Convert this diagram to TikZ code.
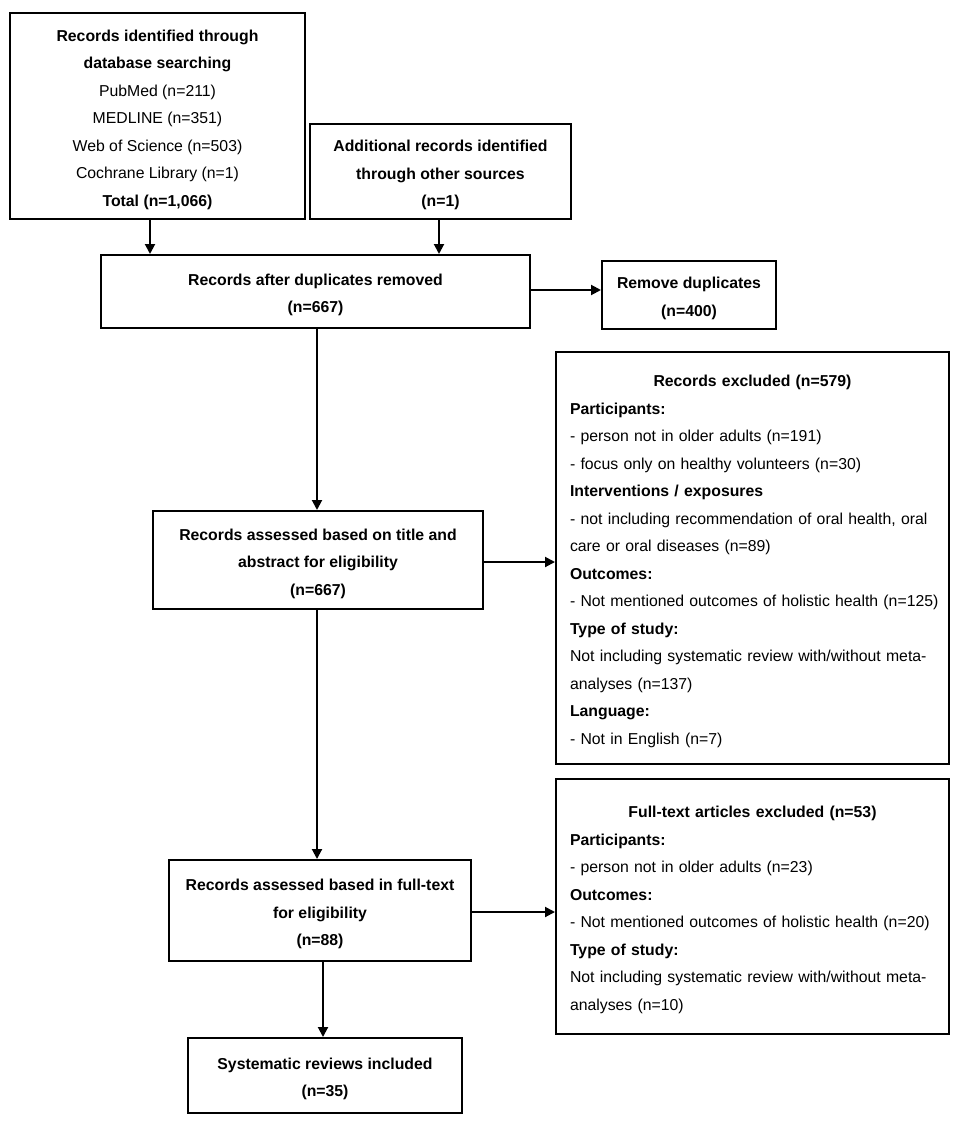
\documentclass[tikz,border=0pt]{standalone}
\usepackage{fontspec}
\setmainfont{Liberation Sans}
\usetikzlibrary{arrows.meta}
\newcommand\tstrut{\rule{0pt}{18.5pt}}
\begin{document}
\begin{tikzpicture}[x=1pt,y=-1pt,
  box/.style={draw=black, line width=2pt, inner sep=0pt, align=center,
    font=\fontsize{15.8}{27.5}\selectfont},
  lbox/.style={draw=black, line width=2pt, inner xsep=14pt, inner ysep=0pt,
    text width=365pt, align=left, font=\fontsize{15.8}{27.5}\selectfont},
  arr/.style={line width=2pt, -{Triangle[length=10pt,width=10pt]}}]
\useasboundingbox (0,0) rectangle (957,1121);
\fill[white] (0,0) rectangle (957,1121);

\node[box, minimum width=295pt, minimum height=206pt] (B1) at (157.5,116)
  {\tstrut\textbf{Records identified through}\\ \textbf{database searching}\\ PubMed (n=211)\\ MEDLINE (n=351)\\ Web of Science (n=503)\\ Cochrane Library (n=1)\\ \textbf{Total (n=1,066)}};

\node[box, minimum width=261pt, minimum height=95pt] (B2) at (440.5,171.5)
  {\tstrut\textbf{Additional records identified}\\ \textbf{through other sources}\\ \textbf{(n=1)}};

\node[box, minimum width=429pt, minimum height=73pt] (B3) at (315.5,291.5)
  {\tstrut\textbf{Records after duplicates removed}\\ \textbf{(n=667)}};

\node[box, minimum width=174pt, minimum height=68pt] (B4) at (689,295)
  {\tstrut\textbf{Remove duplicates}\\ \textbf{(n=400)}};

\node[lbox, minimum height=412pt] (B5) at (752.5,558)
  {\makebox[\linewidth][c]{\tstrut\textbf{Records excluded (n=579)}}\\
   \textbf{Participants:}\\
   - person not in older adults (n=191)\\
   - focus only on healthy volunteers (n=30)\\
   \textbf{Interventions / exposures}\\
   - not including recommendation of oral health, oral\\
   care or oral diseases (n=89)\\
   \textbf{Outcomes:}\\
   \mbox{- Not mentioned outcomes of holistic health (n=125)}\\
   \textbf{Type of study:}\\
   Not including systematic review with/without meta-\\
   analyses (n=137)\\
   \textbf{Language:}\\
   - Not in English (n=7)};

\node[box, minimum width=330pt, minimum height=98pt] (B6) at (318,560)
  {\tstrut\textbf{Records assessed based on title and}\\ \textbf{abstract for eligibility}\\ \textbf{(n=667)}};

\node[lbox, minimum height=255pt] (B7) at (752.5,906.5)
  {\makebox[\linewidth][c]{\tstrut\textbf{Full-text articles excluded (n=53)}}\\
   \textbf{Participants:}\\
   - person not in older adults (n=23)\\
   \textbf{Outcomes:}\\
   - Not mentioned outcomes of holistic health (n=20)\\
   \textbf{Type of study:}\\
   Not including systematic review with/without meta-\\
   analyses (n=10)};

\node[box, minimum width=302pt, minimum height=101pt] (B8) at (320,910.5)
  {\tstrut\textbf{Records assessed based in full-text}\\ \textbf{for eligibility}\\ \textbf{(n=88)}};

\node[box, minimum width=274pt, minimum height=75pt] (B9) at (325,1075.5)
  {\tstrut\textbf{Systematic reviews included}\\ \textbf{(n=35)}};

\draw[arr] ([xshift=-7.5pt]B1.south) -- ([xshift=-7.5pt]B1.south |- B3.north);
\draw[arr] ([xshift=-1.5pt]B2.south) -- ([xshift=-1.5pt]B2.south |- B3.north);
\draw[arr] ([yshift=1.5pt]B3.east) -- ([yshift=1.5pt]B3.east -| B4.west);
\draw[arr] ([xshift=1.5pt]B3.south) -- ([xshift=1.5pt]B3.south |- B6.north);
\draw[arr] ([yshift=-2pt]B6.east) -- ([yshift=-2pt]B6.east -| B5.west);
\draw[arr] ([xshift=-1pt]B6.south) -- ([xshift=-1pt]B6.south |- B8.north);
\draw[arr] ([yshift=-1.5pt]B8.east) -- ([yshift=-1.5pt]B8.east -| B7.west);
\draw[arr] ([xshift=3pt]B8.south) -- ([xshift=3pt]B8.south |- B9.north);
\end{tikzpicture}
\end{document}
